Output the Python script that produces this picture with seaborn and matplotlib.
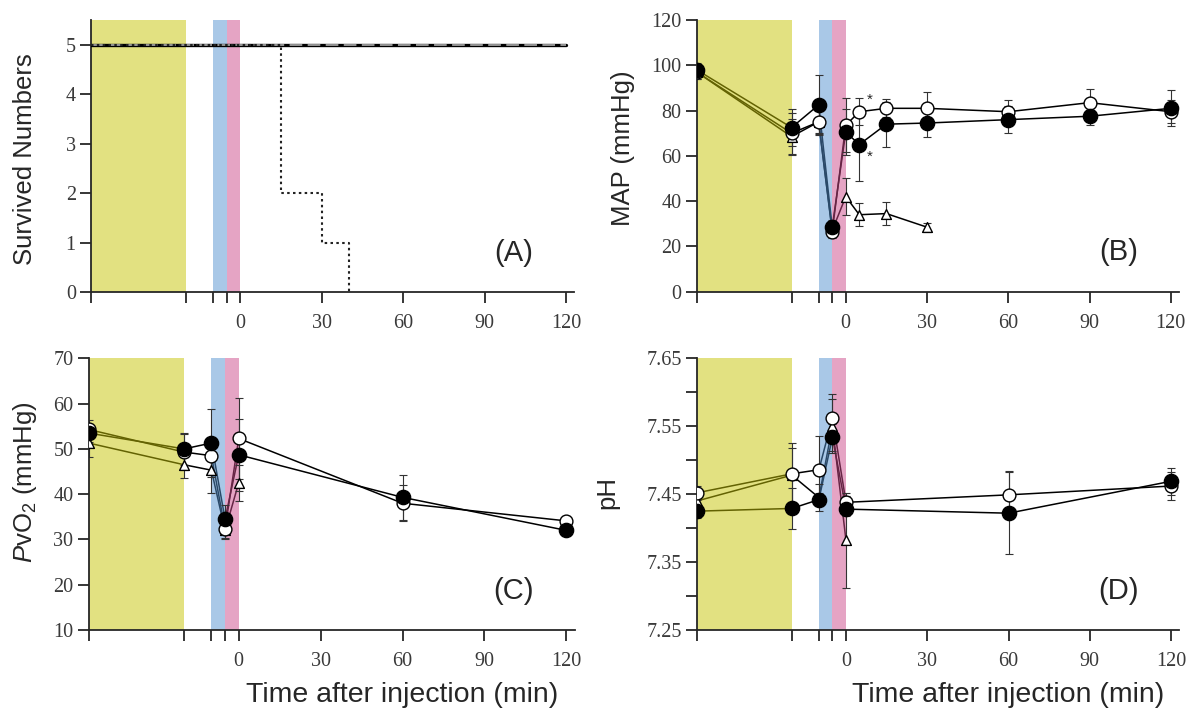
import numpy as np
import pandas as pd
import matplotlib
matplotlib.use("Agg")
import matplotlib.pyplot as plt
import seaborn as sns

# ---------------------------------------------------------------
# Data
# ---------------------------------------------------------------
# (A) survival
surv_time = [-55, 120]
surv_group1 = [5, 5]
surv_group2 = [5, 5]
death_time = [-55, 15, 30, 40]
death_count = [5, 2, 1, 0]

# (B) MAP
map_time = [-55, -20, -10, -5, 0, 5, 15, 30, 60, 90, 120]
map_filled = [98, 72.5, 82.5, 28.5, 70.5, 65, 74, 74.5, 76, 77.5, 81]
map_filled_sd = [3, 8, 13, 3, 10, 16, 10, 6, 6, 4, 8]
map_open = [97, 70, 75, 26.5, 73.5, 79.5, 81, 81, 79.5, 83.5, 79.5]
map_open_sd = [3, 9, 6, 3, 12, 6, 4, 7, 5, 6, 5]
map_tri_time = [-55, -20, -10, -5, 0, 5, 15, 30]
map_tri = [97, 68.5, 75, 27, 42, 34, 34.5, 28.5]
map_tri_sd = [3, 8, 5, 3, 8, 5, 5, 2]

# (C) PvO2
pvo2_time = [-55, -20, -10, -5, 0, 60, 120]
pvo2_filled = [53.5, 50, 51.3, 34.5, 48.7, 39.3, 32]
pvo2_filled_sd = [2, 3.5, 7.5, 3, 8, 5, 1]
pvo2_open = [54.3, 49.3, 48.5, 32.3, 52.3, 38, 34.1]
pvo2_open_sd = [2, 4, 4, 2, 9, 4, 1]
pvo2_tri_time = [-55, -20, -10, -5, 0]
pvo2_tri = [51.3, 46.5, 45.3, 32, 42.5]
pvo2_tri_sd = [3, 3, 5, 2, 4]

# (D) pH
ph_time = [-55, -20, -10, -5, 0, 60, 120]
ph_filled = [7.425, 7.429, 7.442, 7.534, 7.428, 7.422, 7.469]
ph_filled_sd = [0.01, 0.03, 0.01, 0.02, 0.01, 0.06, 0.02]
ph_open = [7.452, 7.480, 7.486, 7.562, 7.438, 7.449, 7.462]
ph_open_sd = [0.01, 0.045, 0.05, 0.035, 0.01, 0.035, 0.02]
ph_tri_time = [-55, -20, -10, -5, 0]
ph_tri = [7.44, 7.478, 7.445, 7.55, 7.382]
ph_tri_sd = [0.01, 0.04, 0.02, 0.04, 0.07]

xtick_pos = [-55, -20, -10, -5, 0, 30, 60, 90, 120]
xtick_lab = ["", "", "", "", "0", "30", "60", "90", "120"]

# ---------------------------------------------------------------
# Style
# ---------------------------------------------------------------
sns.set_style("ticks")
plt.rcParams["font.family"] = ["Liberation Sans", "DejaVu Sans"]
plt.rcParams["mathtext.fontset"] = "custom"
plt.rcParams["mathtext.rm"] = "Liberation Sans"
plt.rcParams["mathtext.it"] = "Liberation Sans:italic"
plt.rcParams["axes.linewidth"] = 1.3

YELLOW = "#c7c505"
BLUE = "#5593d1"
PINK = "#cd4b8b"
TICK_FONT = {"family": "Liberation Serif", "size": 14.5, "color": "#3a3a3a"}


def setup_axes(ax, ylim, yticks, ylabel, label_xy, panel):
    ax.set_xlim(-55, 123)
    ax.set_ylim(*ylim)
    ax.axvspan(-55, -20, color=YELLOW, alpha=0.5, lw=0, zorder=2)
    ax.axvspan(-10, -5, color=BLUE, alpha=0.5, lw=0, zorder=2)
    ax.axvspan(-5, 0, color=PINK, alpha=0.5, lw=0, zorder=2)
    ax.set_xticks(xtick_pos)
    ax.set_xticklabels(xtick_lab, fontdict=TICK_FONT)
    ax.set_yticks(yticks)
    ax.set_yticklabels([("%g" % t) if panel != "D" else "%.2f" % t for t in yticks],
                       fontdict=TICK_FONT)
    ax.tick_params(axis="both", direction="out", length=8, width=1.3, pad=3)
    ax.tick_params(axis="x", pad=8)
    for s in ["top", "right"]:
        ax.spines[s].set_visible(False)
    ax.set_xlabel("")
    ax.set_ylabel(ylabel, fontsize=18.5, va="center")
    ax.yaxis.set_label_coords(*label_xy)
    ax.text(0.875, 0.145, "(%s)" % panel, transform=ax.transAxes,
            fontsize=21, ha="center", va="center")


def draw_series(ax, t, y, sd, marker, face, size):
    df = pd.DataFrame({"t": t, "y": y})
    sns.lineplot(data=df, x="t", y="y", ax=ax, color="black", lw=1.1, zorder=1)
    ax.errorbar(t, y, yerr=sd, fmt="none", ecolor="#333333",
                elinewidth=0.8, capsize=3, capthick=0.8, zorder=2.5)
    sns.scatterplot(data=df, x="t", y="y", ax=ax, marker=marker, s=size,
                    color=face, edgecolor="black", linewidth=1.0, zorder=4)


fig = plt.figure(figsize=(11.98, 7.13), dpi=100)
axA = fig.add_axes([0.0760, 0.5905, 0.4032, 0.3815])
axB = fig.add_axes([0.5816, 0.5909, 0.4025, 0.3810])
axC = fig.add_axes([0.0739, 0.1164, 0.4057, 0.3810])
axD = fig.add_axes([0.5818, 0.1164, 0.4025, 0.3810])

# (A) survival numbers
dfA = pd.DataFrame({"t": surv_time, "g1": surv_group1, "g2": surv_group2})
sns.lineplot(data=dfA, x="t", y="g1", ax=axA, color="black", lw=2.4, zorder=3)
sns.lineplot(data=dfA, x="t", y="g2", ax=axA, color="#a0a0a0", lw=1.3,
             linestyle=(0, (7, 3)), zorder=3)
dfA2 = pd.DataFrame({"t": death_time, "n": death_count})
sns.lineplot(data=dfA2, x="t", y="n", ax=axA, color="#222222", lw=1.5,
             linestyle=(0, (1.2, 1.6)), drawstyle="steps-post", zorder=3)
setup_axes(axA, (0, 5.5), [0, 1, 2, 3, 4, 5], "Survived Numbers", (-0.137, 0.49), "A")

# (B) MAP
draw_series(axB, map_tri_time, map_tri, map_tri_sd, "^", "white", 50)
draw_series(axB, map_time, map_open, map_open_sd, "o", "white", 85)
draw_series(axB, map_time, map_filled, map_filled_sd, "o", "black", 105)
axB.text(8.8, 84.7, "*", fontsize=11, ha="center", va="center")
axB.text(8.8, 59.6, "*", fontsize=11, ha="center", va="center")
setup_axes(axB, (0, 120), [0, 20, 40, 60, 80, 100, 120], "MAP (mmHg)",
           (-0.153, 0.53), "B")

# (C) PvO2
draw_series(axC, pvo2_tri_time, pvo2_tri, pvo2_tri_sd, "^", "white", 50)
draw_series(axC, pvo2_time, pvo2_open, pvo2_open_sd, "o", "white", 85)
draw_series(axC, pvo2_time, pvo2_filled, pvo2_filled_sd, "o", "black", 105)
setup_axes(axC, (10, 70), [10, 20, 30, 40, 50, 60, 70],
           r"$\mathit{P}$vO$_2$ (mmHg)", (-0.131, 0.545), "C")

# (D) pH
draw_series(axD, ph_tri_time, ph_tri, ph_tri_sd, "^", "white", 50)
draw_series(axD, ph_time, ph_open, ph_open_sd, "o", "white", 85)
draw_series(axD, ph_time, ph_filled, ph_filled_sd, "o", "black", 105)
setup_axes(axD, (7.25, 7.65), [7.25, 7.35, 7.45, 7.55, 7.65], "pH",
           (-0.185, 0.505), "D")
axD.set_yticks([7.30, 7.40, 7.50, 7.60], minor=True)
axD.tick_params(axis="y", which="minor", direction="out", length=8, width=1.3)

for ax in (axC, axD):
    ax.text(0.645, -0.24, "Time after injection (min)", transform=ax.transAxes,
            fontsize=20.5, ha="center", va="center")

fig.savefig("out.png", dpi=100)
